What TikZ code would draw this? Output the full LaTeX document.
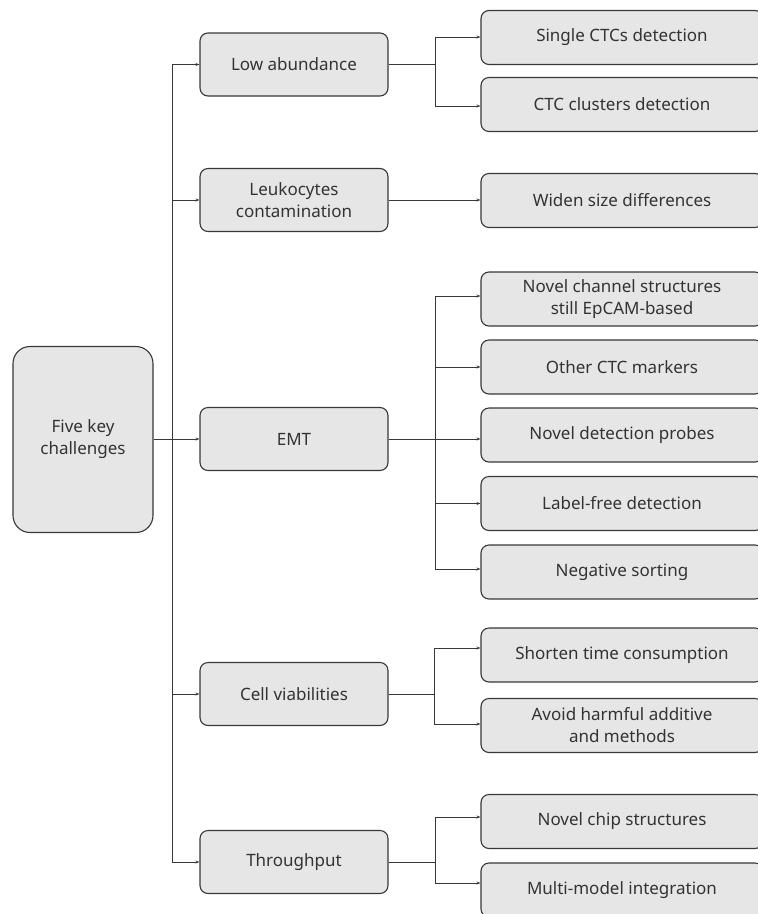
\documentclass[tikz,border=0pt]{standalone}
\usepackage{fontspec}
\setmainfont{Noto Sans}
\usetikzlibrary{arrows.meta}
\definecolor{boxfill}{HTML}{E6E6E6}
\definecolor{edge}{HTML}{383838}
\definecolor{txt}{HTML}{333333}
\tikzset{
  box/.style={draw=edge, fill=boxfill, line width=1.1pt, text=txt, align=center,
    inner sep=0pt, font=\fontsize{17}{22}\selectfont},
  rootbox/.style={box, rounded corners=17pt, minimum width=140pt, minimum height=186pt},
  midbox/.style={box, rounded corners=8pt, minimum width=188pt, minimum height=63pt},
  leafbox/.style={box, rounded corners=8pt, minimum width=282pt, minimum height=54pt},
  conn/.style={draw=edge, line width=0.9pt, -{Stealth[length=4pt,width=3pt]}},
  trunk/.style={draw=edge, line width=0.9pt}
}
\begin{document}
\begin{tikzpicture}[x=1pt,y=-1pt]
\useasboundingbox (0,0) rectangle (758,914);
\begin{scope}
\clip (0,0) rectangle (758,914);
% root
\node[rootbox] (root) at (83,439.5) {Five key\\challenges};
% middle
\node[midbox] (low) at (294,64.5) {Low abundance};
\node[midbox] (leu) at (294,200) {Leukocytes\\contamination};
\node[midbox] (emt) at (294,439) {EMT};
\node[midbox] (cel) at (294,694) {Cell viabilities};
\node[midbox] (thr) at (294,862) {Throughput};
% leaves
\node[leafbox] (r1) at (622,37.5) {Single CTCs detection};
\node[leafbox] (r2) at (622,104.5) {CTC clusters detection};
\node[leafbox] (r3) at (622,200.5) {Widen size differences};
\node[leafbox] (r4) at (622,299) {Novel channel structures\\still EpCAM-based};
\node[leafbox] (r5) at (622,367) {Other CTC markers};
\node[leafbox] (r6) at (622,435) {Novel detection probes};
\node[leafbox] (r7) at (622,503.5) {Label-free detection};
\node[leafbox] (r8) at (622,572) {Negative sorting};
\node[leafbox] (r9) at (622,655) {Shorten time consumption};
\node[leafbox] (r10) at (622,725.5) {Avoid harmful additive\\and methods};
\node[leafbox] (r11) at (622,821.5) {Novel chip structures};
\node[leafbox] (r12) at (622,890) {Multi-model integration};
% trunk
\coordinate (tt) at ([xshift=-27pt]low.west);
\coordinate (tb) at ([xshift=-27pt]thr.west);
\draw[trunk] (tt) -- (tb);
\draw[conn] (tt) -- (low.west);
\draw[conn] ([xshift=-27pt]leu.west) -- (leu.west);
\draw[conn] (root.east |- emt.west) -- (emt.west);
\draw[conn] ([xshift=-27pt]cel.west) -- (cel.west);
\draw[conn] (tb) -- (thr.west);
% branches
\draw[conn] (low.east) -- ++(47,0) |- ([yshift=0.5pt]r1.west);
\draw[conn] (low.east) -- ++(47,0) |- ([yshift=-1.5pt]r2.west);
\draw[conn] (leu.east) -- (r3.west |- leu.east);
\draw[conn] (emt.east) -- ++(47,0) |- ([yshift=3pt]r4.west);
\draw[conn] (emt.east) -- ++(47,0) |- (r5.west);
\draw[conn] (emt.east) -- (r6.west |- emt.east);
\draw[conn] (emt.east) -- ++(47,0) |- (r7.west);
\draw[conn] (emt.east) -- ++(47,0) |- ([yshift=3pt]r8.west);
\draw[conn] (cel.east) -- ++(46,0) |- ([yshift=7pt]r9.west);
\draw[conn] (cel.east) -- ++(46,0) |- ([yshift=1.5pt]r10.west);
\draw[conn] (thr.east) -- ++(47,0) |- ([yshift=4.5pt]r11.west);
\draw[conn] (thr.east) -- ++(47,0) |- ([yshift=7pt]r12.west);
\end{scope}
\end{tikzpicture}
\end{document}
